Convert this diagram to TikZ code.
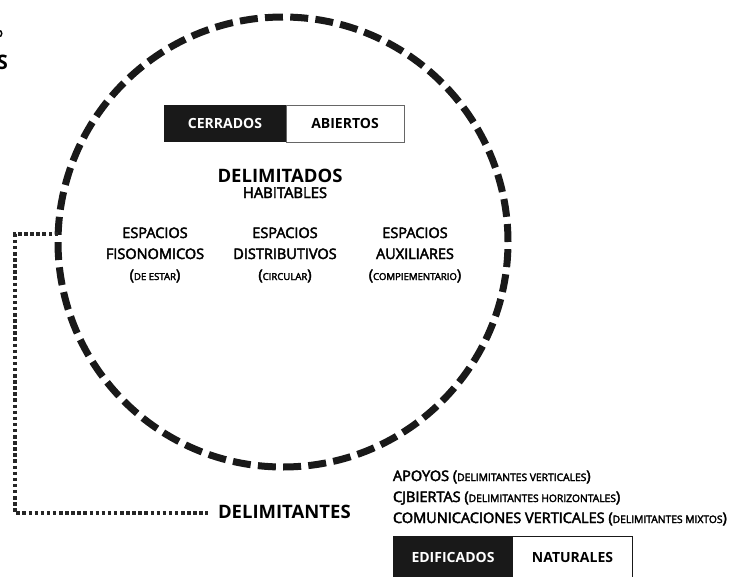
\documentclass[tikz,border=0pt]{standalone}
\usepackage{fontspec}
\setmainfont{Open Sans}
\newfontfamily\medfont[FakeBold=3]{Open Sans}
\begin{document}
\begin{tikzpicture}[x=1pt,y=-1pt,
  every node/.style={inner sep=0pt,outer sep=0pt},
  ring/.style={draw=black!90,line width=7pt,dash pattern=on 18pt off 7.25pt,circle,minimum size=450pt},
  dotline/.style={draw=black!85,line width=3.5pt,dash pattern=on 3.5pt off 2.6pt},
  blackbox/.style={fill=black!90,text=white,font=\fontsize{14}{16}\selectfont\bfseries},
  whitebox/.style={draw=black!60,line width=0.7pt,fill=white,font=\fontsize{14}{16}\selectfont\bfseries},
  bigbold/.style={font=\fontsize{18.5}{20}\selectfont\bfseries},
  espacio/.style={align=center,font=\medfont\fontsize{14.5}{21}\selectfont},
  listitem/.style={anchor=base west,font=\medfont\fontsize{14.5}{16}\selectfont}
]
\useasboundingbox (0,0) rectangle (734,576);
\newcommand{\smallp}[1]{{\fontsize{9.6}{11}\selectfont #1}}
\newcommand{\smallq}[1]{{\fontsize{10.3}{12}\selectfont #1}}

% fragments at top-left
\node[anchor=base east,font=\medfont\fontsize{13}{15}\selectfont] (fragA) at (3,37) {o};
\node[anchor=base east,font=\fontsize{20}{22}\selectfont\bfseries] (fragB) at (8,69) {S};

% dashed ring
\node[ring] (circ) at (283,242) {};

% top boxes
\node[blackbox,minimum width=122pt,minimum height=37pt] (cerr) at (225,123.5) {CERRADOS};
\node[whitebox,minimum width=118pt,minimum height=37pt,anchor=west] (abie) at (cerr.east) {ABIERTOS};

% titles
\node[bigbold,anchor=base] (delimd) at (280,182) {DELIMITADOS};
\node[anchor=base,font=\medfont\fontsize{14.8}{16}\selectfont] (habit) at (285,198) {HABITABLES};

% espacios
\node[espacio,anchor=base] (esp1) at (155,280) {ESPACIOS\\FISONOMICOS\\(\smallp{DE ESTAR})};
\node[espacio,anchor=base] (esp2) at (285,280) {ESPACIOS\\DISTRIBUTIVOS\\(\smallp{CIRCULAR})};
\node[espacio,anchor=base] (esp3) at (415,280) {ESPACIOS\\AUXILIARES\\(\smallp{COMPIEMENTARIO})};

% delimitantes
\node[bigbold,anchor=base west] (delimt) at (218,518) {DELIMITANTES};
\draw[dotline] (circ.178.5) -| (15,513) -- ([xshift=-10pt]delimt.west |- 0,513);

% list
\node[listitem] (apo) at (393,481) {APOYOS (\smallq{DELIMITANTES VERTICALES})};
\node[listitem] (cub) at (393,502) {CJBIERTAS (\smallq{DELIMITANTES HORIZONTALES})};
\node[listitem] (com) at (393,523) {COMUNICACIONES VERTICALES (\smallq{DELIMITANTES MIXTOS})};

% bottom boxes
\node[blackbox,minimum width=120pt,minimum height=42pt,anchor=north west] (edif) at (393,536) {\raisebox{-2pt}{EDIFICADOS}};
\draw[black!90,line width=0.9pt] (edif.north east) -- (632,536) -- (632,580);
\node[font=\fontsize{14}{16}\selectfont\bfseries] (natu) at (572.5,557) {\raisebox{-2pt}{NATURALES}};
\end{tikzpicture}
\end{document}
